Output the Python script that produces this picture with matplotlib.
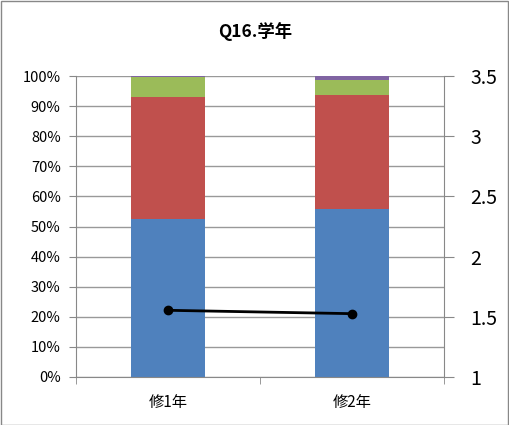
import numpy as np
import matplotlib
matplotlib.use("Agg")
import matplotlib.pyplot as plt
from matplotlib.ticker import FuncFormatter

plt.rcParams['font.family'] = ['Noto Sans CJK JP', 'DejaVu Sans']

categories = ["修1年", "修2年"]
blue = [52.6, 55.7]
red = [40.5, 38.1]
green = [6.6, 4.8]
purple = [0.3, 1.4]
mean_line = [1.554, 1.526]

colors = ["#4F81BD", "#C0504D", "#9BBB59", "#8064A2"]

fig = plt.figure(figsize=(5.1, 4.25), dpi=100)
fig.patch.set_facecolor("white")
# outer border
fig.add_artist(plt.Rectangle((0.001, 0.001), 0.996, 0.996, transform=fig.transFigure,
                             fill=False, edgecolor="#888888", linewidth=1))

ax = fig.add_axes([0.149, 0.113, 0.721, 0.708])
x = np.arange(len(categories))
bottom = np.zeros(len(categories))
for vals, c in zip([blue, red, green, purple], colors):
    ax.bar(x, vals, width=0.4, bottom=bottom, color=c, zorder=2)
    bottom += np.array(vals)

ax.set_xlim(-0.5, 1.5)
ax.set_ylim(0, 100)
ax.set_yticks(np.arange(0, 101, 10))
ax.yaxis.set_major_formatter(FuncFormatter(lambda v, p: f"{int(v)}%"))
ax.set_xticks(x)
ax.set_xticklabels(categories, fontsize=11)
ax.set_xticks([-0.5, 0.5, 1.5], minor=True)
ax.tick_params(axis="x", which="major", length=0, pad=12)
ax.tick_params(axis="x", which="minor", length=5, color="#888888")
ax.tick_params(axis="y", labelsize=10.5, length=5, color="#888888", pad=6)
ax.grid(axis="y", color="#999999", linewidth=1, zorder=0)
for s in ["top", "right"]:
    ax.spines[s].set_visible(False)
for s in ["left", "bottom"]:
    ax.spines[s].set_color("#888888")

ax2 = ax.twinx()
ax2.plot(x, mean_line, color="black", linewidth=2, marker="o", markersize=6, zorder=5)
ax2.set_ylim(1, 3.5)
ax2.set_yticks(np.arange(1, 3.51, 0.5))
ax2.yaxis.set_major_formatter(FuncFormatter(lambda v, p: f"{v:g}"))
ax2.tick_params(axis="y", labelsize=14, length=7, color="#888888", pad=12)
for s in ["top", "left", "bottom"]:
    ax2.spines[s].set_visible(False)
ax2.spines["right"].set_color("#888888")

fig.text(0.5, 0.927, "Q16.学年", ha="center", va="center", fontsize=12.5, fontweight="bold")

fig.savefig("out.png", dpi=100)
